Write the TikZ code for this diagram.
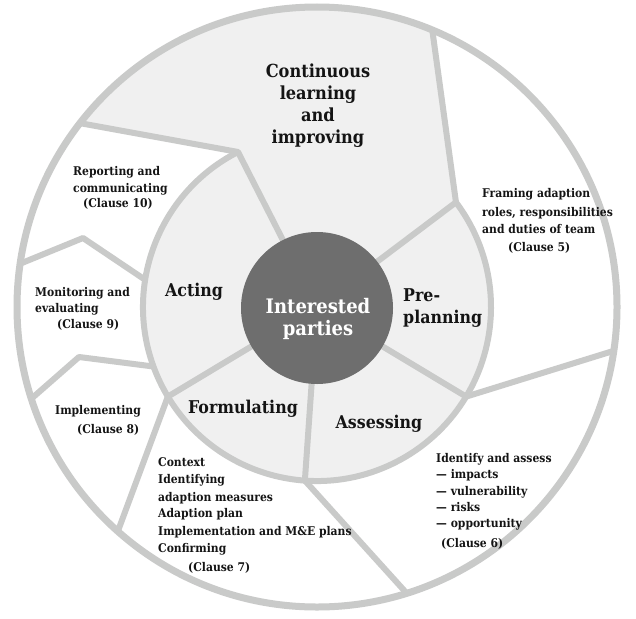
\documentclass[tikz,border=0pt]{standalone}
\usepackage{fontspec}
\setmainfont{DejaVu Serif Condensed}
\usetikzlibrary{calc}
\definecolor{ringline}{RGB}{201,202,201}
\definecolor{lightfill}{RGB}{240,240,240}
\definecolor{darkc}{RGB}{110,110,110}
\definecolor{txt}{RGB}{20,20,20}
\tikzset{
  sep/.style={draw=ringline, line width=6pt},
  small/.style={anchor=base west, inner sep=0pt, font=\bfseries\fontsize{12}{14}\selectfont, text=txt},
  big/.style={anchor=base, inner sep=0pt, font=\bfseries\fontsize{17.6}{20}\selectfont, text=txt},
  bigl/.style={big, anchor=base west},
  huge/.style={anchor=base, inner sep=0pt, font=\bfseries\fontsize{18}{22}\selectfont, text=txt},
  centre/.style={anchor=base, inner sep=0pt, font=\bfseries\fontsize{20}{22}\selectfont, text=white}
}
\begin{document}
\begin{tikzpicture}[x=1pt,y=1pt,line join=round]
\useasboundingbox (0,0) rectangle (636,-618);
\fill[white] (0,0) rectangle (636,-618);
\coordinate (C) at (317,-307);
\foreach \n/\a in {A1/117,A2/37,A3/-31,A4/-94,A5/211,Z1/171,Z2/200}
  \coordinate (\n) at ($(C)+(\a:174)$);
\foreach \n/\a in {O1/142.2,O2/67.4,O3/-8.4,O4/-72.6,O5/228.4,P1/171.7,P2/197.8}
  \coordinate (\n) at ($(C)+(\a:300)$);
\coordinate (V1) at (83,-238);
\coordinate (V2) at (79,-357);

% fills
\fill[lightfill] (C) circle[radius=174];
\fill[lightfill] (O1) arc[start angle=142.2, end angle=67.4, radius=300] -- (A2) -- (C) -- (A1) -- cycle;

% separators
\draw[sep] (A1) arc[start angle=117, end angle=397, radius=174];
\draw[sep] (O1) -- (A1) -- (C);
\draw[sep] (O2) -- (A2) -- (C);
\draw[sep] (O3) -- (A3) -- (C);
\draw[sep] (O4) -- (A4) -- (C);
\draw[sep] (O5) -- (A5) -- (C);
\draw[sep] (P1) -- (V1) -- (Z1);
\draw[sep] (P2) -- (V2) -- (Z2);
\draw[draw=ringline, line width=7pt] (C) circle[radius=300];
\fill[darkc] (317,-308) circle[radius=76];

% central text
\node[centre] (ip1) at (318,-313) {Interested};
\node[centre] (ip2) at (318,-335) {parties};

% stage labels
\node[huge] (cl1) at (318,-77) {Continuous};
\node[huge] (cl2) at (318,-99) {learning};
\node[huge] (cl3) at (318,-121) {and};
\node[huge] (cl4) at (318,-143) {improving};
\node[big] (act) at (194,-296) {Acting};
\node[bigl] (pp1) at (403,-301) {Pre-};
\node[bigl] (pp2) at (403,-323) {planning};
\node[big] (form) at (243,-413) {Formulating};
\node[big] (ass) at (379,-428) {Assessing};

% clause texts
\node[small] (r1) at (73,-175) {Reporting and};
\node[small] (r2) at (73,-192) {communicating};
\node[small] (r3) at (83,-207) {(Clause 10)};

\node[small] (m1) at (35,-296) {Monitoring and};
\node[small] (m2) at (35,-312) {evaluating};
\node[small] (m3) at (57,-328) {(Clause 9)};

\node[small] (i1) at (55,-414) {Implementing};
\node[small] (i2) at (77,-433) {(Clause 8)};

\node[small] (f1) at (158,-466) {Context};
\node[small] (f2) at (158,-483) {Identifying};
\node[small] (f3) at (158,-501) {adaption measures};
\node[small] (f4) at (158,-517) {Adaption plan};
\node[small] (f5) at (158,-535) {Implementation and M\&E plans};
\node[small] (f6) at (158,-552) {Confirming};
\node[small] (f7) at (188,-571) {(Clause 7)};

\node[small] (a1) at (436,-462) {Identify and assess};
\node[small] (a2) at (436,-478) {— impacts};
\node[small] (a3) at (436,-495) {— vulnerability};
\node[small] (a4) at (436,-511) {— risks};
\node[small] (a5) at (436,-527) {— opportunity};
\node[small] (a6) at (441,-547) {(Clause 6)};

\node[small] (p1) at (482,-197) {Framing adaption};
\node[small] (p2) at (482,-216) {roles, responsibilities};
\node[small] (p3) at (482,-233) {and duties of team};
\node[small] (p4) at (508,-251) {(Clause 5)};
\end{tikzpicture}
\end{document}
